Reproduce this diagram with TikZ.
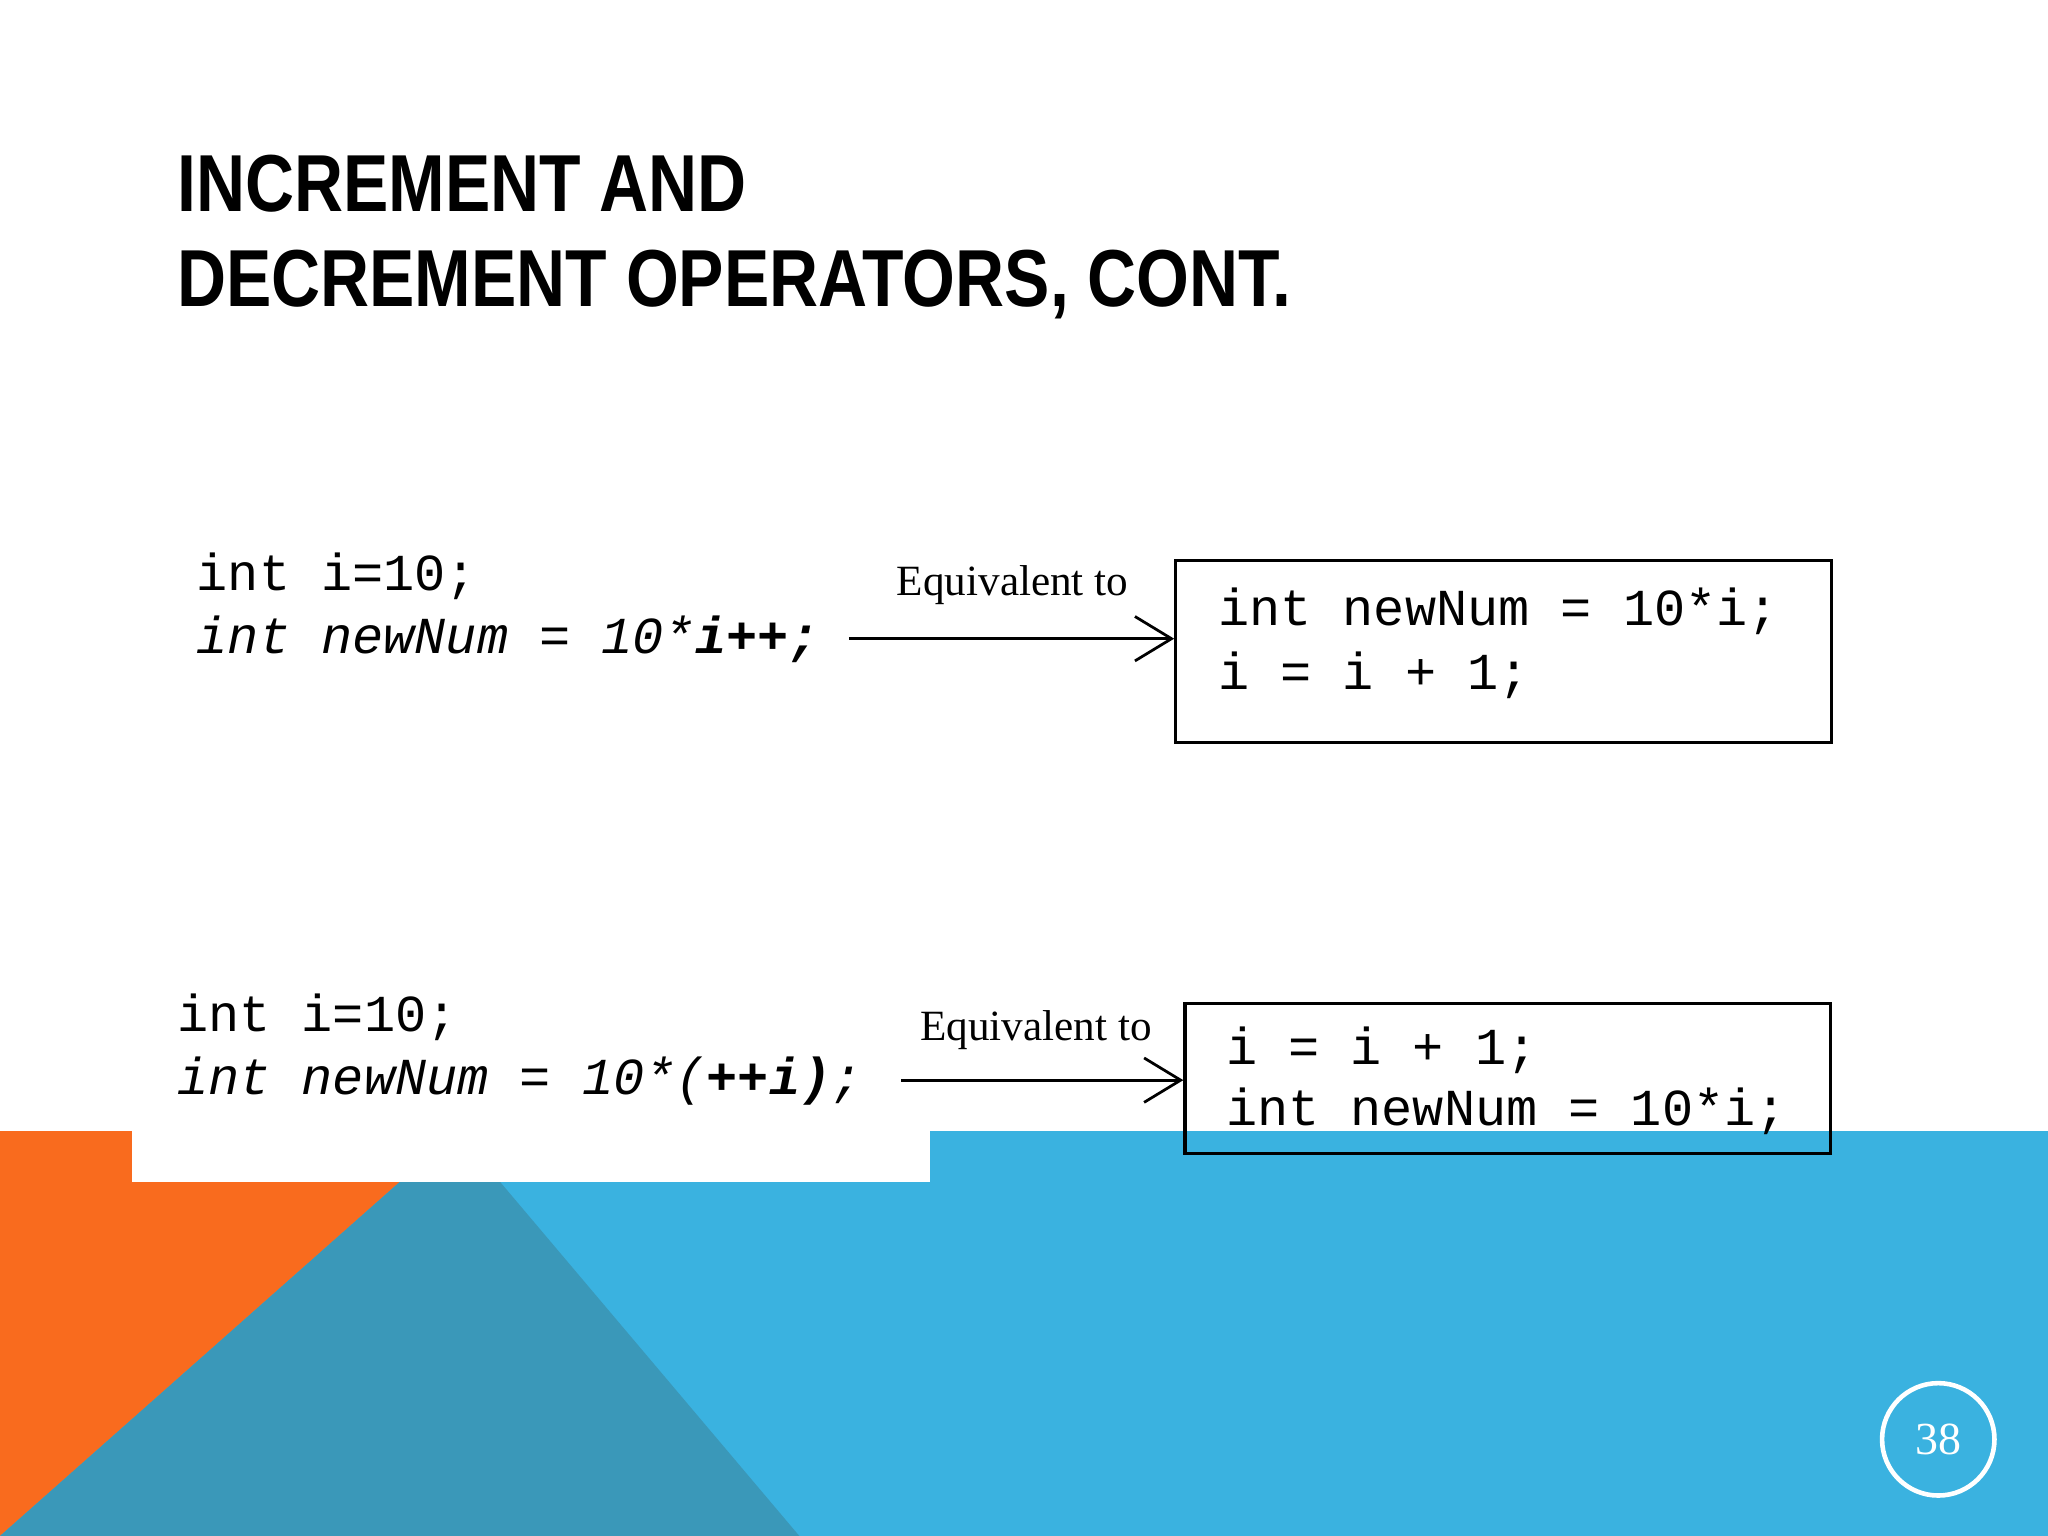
\documentclass[tikz,border=0pt]{standalone}
\usepackage{fontspec}
\setmainfont{Liberation Serif}
\setsansfont{Liberation Sans}
\setmonofont{Liberation Mono}
\usetikzlibrary{arrows.meta}
\definecolor{bgblue}{HTML}{3AB2E0}
\definecolor{bgorange}{HTML}{F96B1E}
\definecolor{bgteal}{HTML}{3A98B9}
\tikzset{
  code/.style={anchor=base west,inner sep=0pt,font=\fontsize{11.3}{13}\selectfont\ttfamily},
  eqlabel/.style={anchor=base west,inner sep=0pt,font=\fontsize{9.4}{11}\selectfont\rmfamily},
  titletext/.style={anchor=base west,inner sep=0pt,font=\fontsize{17.6}{20}\selectfont\sffamily\bfseries},
  codebox/.style={draw,line width=0.7pt},
  eqarrow/.style={line width=0.6pt,-{Straight Barb[length=0.28cm,width=0.34cm,line width=0.6pt]}}
}
\begin{document}
\begin{tikzpicture}[x=0.01cm,y=-0.01cm]
\useasboundingbox (0,0) rectangle (1568,1176);
\fill[white] (0,0) rectangle (1568,1176);
\fill[bgblue] (0,866) rectangle (1568,1176);
\fill[bgorange] (0,866) -- (350,866) -- (0,1176) -- cycle;
\fill[bgteal] (0,1176) -- (350,866) -- (612,1176) -- cycle;
\fill[white] (101,866) rectangle (712,905);
% title
\node[titletext] (t1) at (135,162) {\scalebox{0.84}[1]{INCREMENT AND}};
\node[titletext] (t2) at (135,235) {\scalebox{0.84}[1]{DECREMENT OPERATORS, CONT.}};
% first example
\node[code] (a1) at (150,452) {int i=10;};
\node[code] (a2) at (150,500) {\itshape int newNum = 10*\textbf{i++;}};
\node[eqlabel] (e1) at (686,456) {Equivalent to};
\node[codebox,minimum width=5.02cm,minimum height=1.39cm,anchor=north west,inner sep=0pt] (b1) at (899,428) {};
\node[code] (b1a) at (932,479) {int newNum = 10*i;};
\node[code] (b1b) at (932,528) {i = i + 1;};
\coordinate (s1) at (650,489);
\draw[eqarrow] (s1) -- (s1 -| b1.west);
% second example
\node[code] (c1) at (135,790) {int i=10;};
\node[code] (c2) at (135,838) {\itshape int newNum = 10*(\textbf{++i)};};
\node[eqlabel] (e2) at (704,797) {Equivalent to};
\node[codebox,minimum width=4.94cm,minimum height=1.15cm,anchor=north west,inner sep=0pt] (b2) at (906,767) {};
\node[code] (b2a) at (938,815) {i = i + 1;};
\node[code] (b2b) at (938,862) {int newNum = 10*i;};
\coordinate (s2) at (690,827);
\draw[eqarrow] (s2) -- (s2 -| b2.west);
% page number
\node[circle,draw=white,line width=1pt,minimum size=0.86cm,text=white,font=\fontsize{10}{12}\selectfont\rmfamily] (pg) at (1484,1102) {38};
\end{tikzpicture}
\end{document}
